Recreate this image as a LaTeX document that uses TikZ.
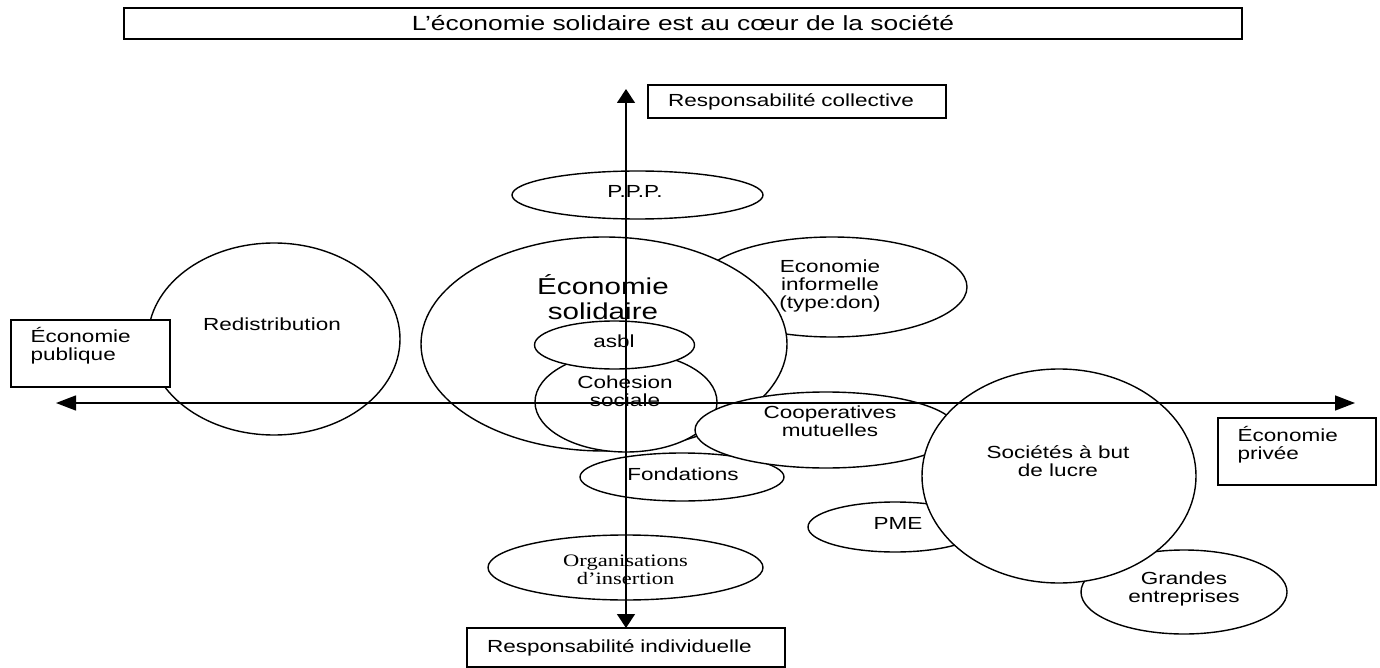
\documentclass[tikz,border=0pt]{standalone}
\usepackage{fontspec}
\setmainfont[FakeStretch=1.286]{Liberation Sans}
\newfontfamily\serifstretch[FakeStretch=1.286]{Liberation Serif}
\usetikzlibrary{shapes.geometric,arrows.meta}
\begin{document}
\begin{tikzpicture}[x=1pt,y=-1pt,
  line width=1.4pt,
  oval/.style={ellipse, draw, fill=white, inner sep=0pt, outer sep=0pt},
  box/.style={rectangle, draw, fill=white, inner sep=0pt, outer sep=0pt},
  txt/.style={font=\fontsize{17.5}{18}\selectfont, align=center, inner sep=0pt},
  txtl/.style={font=\fontsize{17.5}{18}\selectfont, align=left, inner sep=0pt},
  harrow/.style={{Triangle[length=20pt,width=15pt]}-{Triangle[length=20pt,width=15pt]}},
  varrow/.style={{Triangle[length=14pt,width=18pt]}-{Triangle[length=14pt,width=18pt]}}
]
\useasboundingbox (0,0) rectangle (1380,668);

% ellipses, back to front
\node[oval, minimum width=252pt, minimum height=192pt] (redis) at (274,339) {};
\node[box, minimum width=159pt, minimum height=67pt] (pub) at (90.5,353.5) {};
\node[oval, minimum width=270pt, minimum height=100pt] (infor) at (832,287) {};
\node[oval, minimum width=366pt, minimum height=214pt] (solid) at (604,344) {};
\node[oval, minimum width=182pt, minimum height=100pt] (cohes) at (626,402) {};
\node[oval, minimum width=160pt, minimum height=48pt] (asbl) at (614.5,345) {};
\node[oval, minimum width=204pt, minimum height=48pt] (fond) at (682,477) {};
\node[oval, minimum width=262pt, minimum height=76pt] (coop) at (826,430) {};
\node[oval, minimum width=174pt, minimum height=50pt] (pme) at (895,527) {};
\node[oval, minimum width=206pt, minimum height=84pt] (grand) at (1184,592) {};
\node[oval, minimum width=274pt, minimum height=214pt] (soc) at (1059,476) {};
\node[oval, minimum width=251pt, minimum height=48pt] (ppp) at (637.5,195) {};
\node[oval, minimum width=275pt, minimum height=65pt] (org) at (625.5,567.5) {};

% boxes
\node[box, minimum width=1118pt, minimum height=31pt, font=\fontsize{20.5}{22}\selectfont] (title) at (683,23.5) {L’économie solidaire est au cœur de la société};
\node[box, minimum width=298pt, minimum height=33pt, inner xsep=20pt, text width=258pt, align=left, font=\fontsize{17.5}{18}\selectfont] (rc) at (797,101.5) {Responsabilité collective};
\node[box, minimum width=318pt, minimum height=39pt, inner xsep=20pt, text width=278pt, align=left, font=\fontsize{17.5}{18}\selectfont] (ri) at (626,647.5) {Responsabilité individuelle};
\node[box, minimum width=158pt, minimum height=67pt] (priv) at (1297,451.5) {};

% texts
\node[txt, anchor=base] (tredis) at (272,330) {Redistribution};
\node[txtl, anchor=west] (tpub) at (30,346) {Économie\\publique};
\node[txtl, anchor=west] (tpriv) at (1237,445) {Économie\\privée};
\node[txt, anchor=base] (tppp) at (635,198) {P.P.P.};
\node[txt, font=\fontsize{23}{25}\selectfont] (tsolid) at (603,297) {Économie\\solidaire};
\node[txt, anchor=base] (tasbl) at (614,347) {asbl};
\node[txt] (tcohes) at (625,391) {Cohesion\\sociale};
\node[txt] (tinfor) at (830,286) {Economie\\informelle\\(type:don)};
\node[txt] (tcoop) at (830,421.5) {Cooperatives\\mutuelles};
\node[txt, anchor=base] (tfond) at (683,480) {Fondations};
\node[txt, anchor=base] (tpme) at (898,529) {PME};
\node[txt] (tsoc) at (1058,461) {Sociétés à but\\de lucre};
\node[txt] (tgrand) at (1184,589) {Grandes\\entreprises};
\node[txt, font=\fontsize{17.5}{18}\serifstretch] (torg) at (625.5,569.5) {Organisations\\d’insertion};

% axes
\coordinate (hl) at (56,403);
\coordinate (hr) at (1355,403);
\coordinate (vt) at (626,89);
\draw[harrow] (hl) -- (hr);
\draw[varrow] (vt) -- (ri.north);
\end{tikzpicture}
\end{document}
